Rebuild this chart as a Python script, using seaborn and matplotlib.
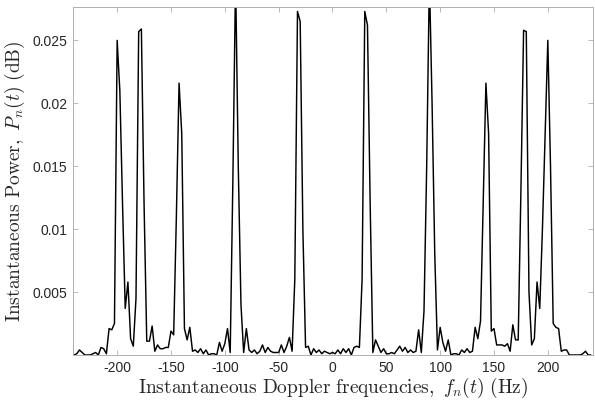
import numpy as np
import matplotlib
matplotlib.use("Agg")
import matplotlib.pyplot as plt
import seaborn as sns

sns.set_theme(style="ticks")
plt.rcParams["mathtext.fontset"] = "cm"
plt.rcParams["font.family"] = ["Liberation Sans", "DejaVu Sans"]

# Doppler frequency grid (Hz), sampled every 2.5 Hz
freq_start, freq_stop, freq_step = -240.0, 240.0, 2.5
freqs = np.arange(freq_start, freq_stop + freq_step / 2, freq_step)

# instantaneous power, one row = 10 samples
power = [
    0.0000, 0.0001, 0.0004, 0.0002, 0.0000, 0.0000, 0.0000, 0.0001, 0.0002, 0.0000,  # -240 .. -217.5
    0.0006, 0.0005, 0.0001, 0.0021, 0.0020, 0.0025, 0.0250, 0.0210, 0.0120, 0.0037,  # -215 .. -192.5
    0.0058, 0.0013, 0.0007, 0.0045, 0.0257, 0.0259, 0.0120, 0.0011, 0.0011, 0.0023,  # -190 .. -167.5
    0.0003, 0.0008, 0.0005, 0.0005, 0.0006, 0.0006, 0.0019, 0.0016, 0.0110, 0.0216,  # -165 .. -142.5
    0.0176, 0.0021, 0.0012, 0.0022, 0.0003, 0.0004, 0.0002, 0.0005, 0.0001, 0.0004,  # -140 .. -117.5
    0.0000, 0.0001, 0.0001, 0.0000, 0.0010, 0.0003, 0.0009, 0.0021, 0.0002, 0.0140,  # -115 .. -92.5
    0.0300, 0.0150, 0.0040, 0.0002, 0.0021, 0.0004, 0.0002, 0.0004, 0.0001, 0.0003,  # -90 .. -67.5
    0.0008, 0.0002, 0.0006, 0.0003, 0.0002, 0.0002, 0.0002, 0.0008, 0.0002, 0.0007,  # -65 .. -42.5
    0.0014, 0.0003, 0.0060, 0.0273, 0.0265, 0.0100, 0.0006, 0.0007, 0.0000, 0.0005,  # -40 .. -17.5
    0.0002, 0.0004, 0.0001, 0.0003, 0.0002, 0.0001, 0.0002, 0.0001, 0.0004, 0.0001,  # -15 .. 7.5
    0.0005, 0.0002, 0.0005, 0.0000, 0.0006, 0.0007, 0.0006, 0.0060, 0.0273, 0.0262,  # 10 .. 32.5
    0.0120, 0.0002, 0.0012, 0.0007, 0.0002, 0.0005, 0.0001, 0.0001, 0.0002, 0.0001,  # 35 .. 57.5
    0.0004, 0.0007, 0.0003, 0.0006, 0.0002, 0.0004, 0.0002, 0.0003, 0.0020, 0.0002,  # 60 .. 82.5
    0.0035, 0.0150, 0.0300, 0.0200, 0.0080, 0.0004, 0.0022, 0.0010, 0.0003, 0.0012,  # 85 .. 107.5
    0.0000, 0.0001, 0.0001, 0.0000, 0.0004, 0.0002, 0.0005, 0.0002, 0.0003, 0.0022,  # 110 .. 132.5
    0.0013, 0.0027, 0.0120, 0.0216, 0.0176, 0.0019, 0.0021, 0.0008, 0.0008, 0.0008,  # 135 .. 157.5
    0.0007, 0.0009, 0.0003, 0.0024, 0.0012, 0.0012, 0.0130, 0.0258, 0.0257, 0.0050,  # 160 .. 182.5
    0.0008, 0.0013, 0.0058, 0.0037, 0.0100, 0.0175, 0.0250, 0.0150, 0.0025, 0.0022,  # 185 .. 207.5
    0.0021, 0.0003, 0.0004, 0.0004, 0.0000, 0.0000, 0.0000, 0.0000, 0.0000, 0.0001,  # 210 .. 232.5
    0.0003, 0.0000, 0.0000,                                                          # 235 .. 240
]

x_ticks = [-200, -150, -100, -50, 0, 50, 100, 150, 200]
y_ticks = [0.005, 0.01, 0.015, 0.02, 0.025]
y_tick_labels = ["0.005", "0.01", "0.015", "0.02", "0.025"]

fig = plt.figure(figsize=(5.95, 4.01), dpi=100)
ax = fig.add_axes([0.1227, 0.1147, 0.874, 0.8678])

sns.lineplot(x=freqs, y=power, color="black", linewidth=1.05, ax=ax)

ax.set_xlim(-241, 242)
ax.set_ylim(0, 0.02765)
ax.set_xticks(x_ticks)
ax.set_xticklabels([str(t) for t in x_ticks])
ax.set_yticks(y_ticks)
ax.set_yticklabels(y_tick_labels)

# matlab-like box with inward ticks on all sides
ax.tick_params(direction="in", top=True, right=True, length=3.5, width=0.6,
               color="#b0b0b0", labelsize=10, labelcolor="#262626", pad=4)
for side in ax.spines.values():
    side.set_visible(True)
    side.set_color("#b0b0b0")
    side.set_linewidth(0.7)

ax.set_xlabel(r"$\mathrm{Instantaneous\ Doppler\ frequencies,\ }f_n(t)\ \mathrm{(Hz)}$",
              fontsize=14, color="#262626", labelpad=1)
ax.set_ylabel(r"$\mathrm{Instantaneous\ Power,\ }P_n(t)\ \mathrm{(dB)}$",
              fontsize=14, color="#262626", labelpad=4)

fig.savefig("out.png", dpi=100)
